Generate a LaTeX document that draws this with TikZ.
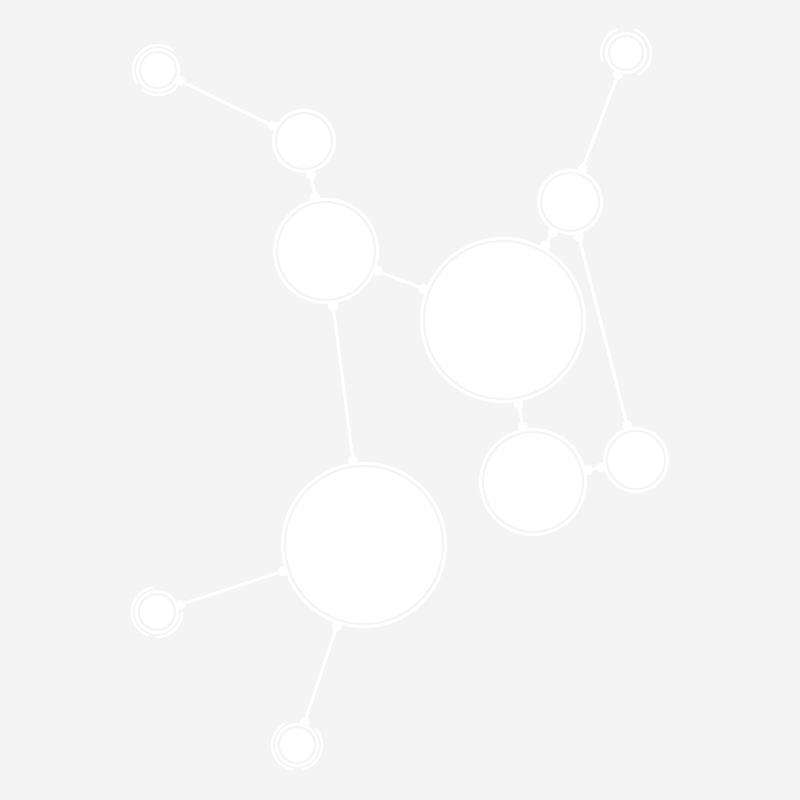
\documentclass[tikz,border=0pt]{standalone}
\usetikzlibrary{arrows.meta}
\definecolor{bgcol}{HTML}{F4F4F4}
\tikzset{
  atom/.style={circle, inner sep=0pt, minimum size=#1, fill=white, draw=white,
    line width=0.3mm, double=bgcol, double distance=0.2mm},
  bond/.style={white, line width=0.3mm, {Circle[length=1mm]}-{Circle[length=1mm]}},
  halo/.style={white, line width=0.25mm}
}
\begin{document}
\begin{tikzpicture}[x=0.1mm, y=0.1mm]
\fill[bgcol] (0,0) rectangle (800,800);
\useasboundingbox (0,0) rectangle (800,800);
% atoms
\node[atom=3.6mm] (A) at (158,730) {};
\node[atom=5.6mm] (B) at (304,659) {};
\node[atom=9.8mm] (C) at (326,549) {};
\node[atom=15.8mm] (D) at (503,480) {};
\node[atom=5.8mm] (E) at (570,598) {};
\node[atom=3.4mm] (F) at (626,747) {};
\node[atom=10mm] (G) at (533,318) {};
\node[atom=5.8mm] (H) at (636,340) {};
\node[atom=15.8mm] (I) at (364,255) {};
\node[atom=3.6mm] (J) at (157,188) {};
\node[atom=3.6mm] (K) at (297,55) {};
% bonds
\draw[bond] (A) -- (B);
\draw[bond] (B) -- (C);
\draw[bond] (C) -- (D);
\draw[bond] (C) -- (I);
\draw[bond] (D) -- (E);
\draw[bond] (E) -- (F);
\draw[bond] (E) -- (H);
\draw[bond] (D) -- (G);
\draw[bond] (G) -- (H);
\draw[bond] (I) -- (J);
\draw[bond] (I) -- (K);
% broken rings round the end atoms
\draw[halo] ([shift={(50:2.5mm)}]A.center) arc[start angle=50, end angle=215, radius=2.5mm];
\draw[halo] ([shift={(230:2.5mm)}]A.center) arc[start angle=230, end angle=320, radius=2.5mm];
\draw[halo] ([shift={(70:2.5mm)}]F.center) arc[start angle=70, end angle=-60, radius=2.5mm];
\draw[halo] ([shift={(110:2.5mm)}]F.center) arc[start angle=110, end angle=200, radius=2.5mm];
\draw[halo] ([shift={(100:2.5mm)}]J.center) arc[start angle=100, end angle=250, radius=2.5mm];
\draw[halo] ([shift={(270:2.5mm)}]J.center) arc[start angle=270, end angle=360, radius=2.5mm];
\draw[halo] ([shift={(120:2.5mm)}]K.center) arc[start angle=120, end angle=260, radius=2.5mm];
\draw[halo] ([shift={(-80:2.5mm)}]K.center) arc[start angle=-80, end angle=40, radius=2.5mm];
\end{tikzpicture}
\end{document}
